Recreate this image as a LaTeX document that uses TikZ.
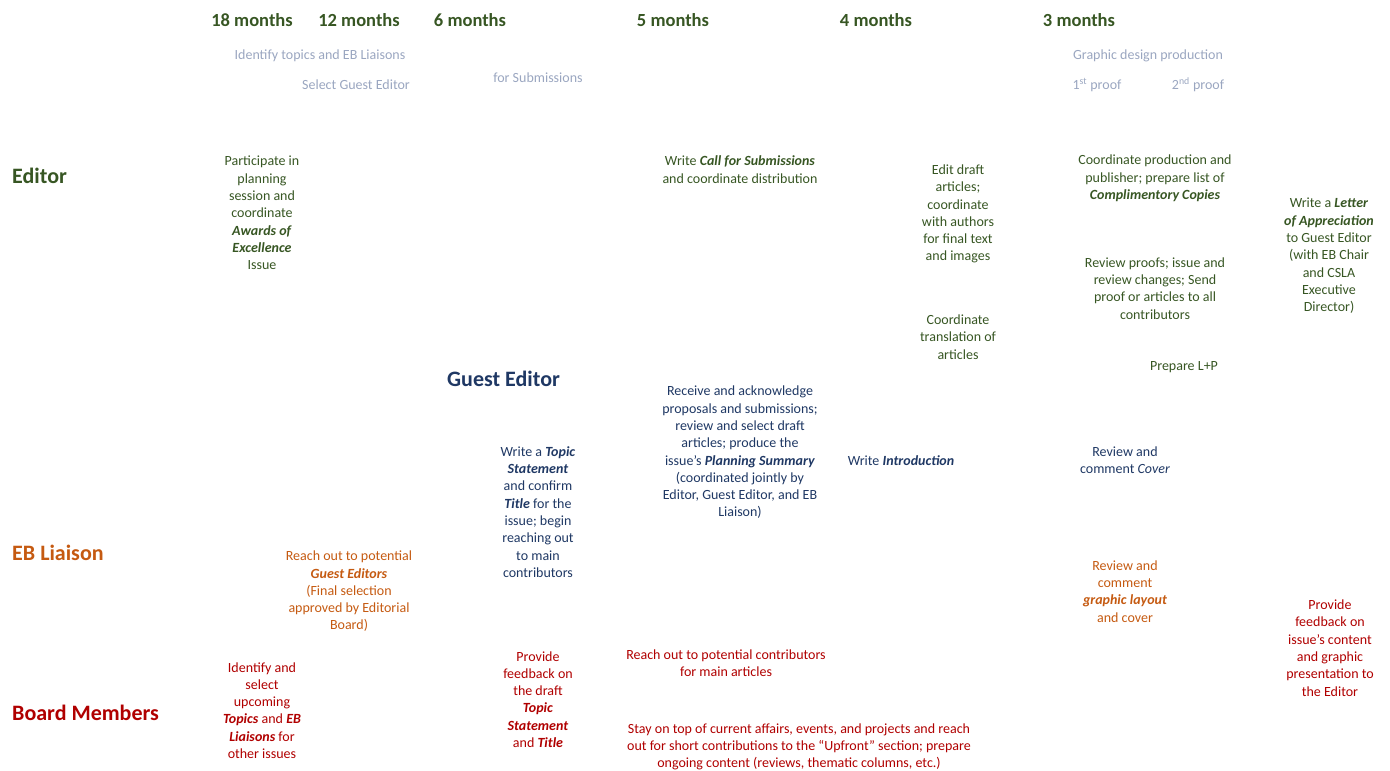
\documentclass[tikz,border=0pt]{standalone}
\usepackage{fontspec}
\setmainfont{Carlito}
\definecolor{edgreen}{HTML}{375623}
\definecolor{geblue}{HTML}{1F3864}
\definecolor{eborange}{HTML}{C55A11}
\definecolor{bmred}{HTML}{B00000}
\definecolor{pale}{HTML}{9AA6C0}
\newcommand{\bi}[1]{\textbf{\textit{#1}}}
\tikzset{
  hdr/.style={font=\fontsize{18.5}{22}\selectfont\bfseries, text=edgreen, inner sep=0pt},
  role/.style={font=\fontsize{22}{26}\selectfont\bfseries, inner sep=0pt, anchor=west},
  pl/.style={font=\fontsize{14}{16}\selectfont, text=pale, inner sep=0pt},
  task/.style={font=\fontsize{14}{17.3}\selectfont, align=center, inner sep=0pt},
  edt/.style={task, text=edgreen},
  get/.style={task, text=geblue},
  ebt/.style={task, text=eborange},
  bmt/.style={task, text=bmred}
}
\begin{document}
\begin{tikzpicture}[x=1pt,y=-1pt]
\useasboundingbox (0,0) rectangle (1390,771);
% timeline headers
\node[hdr] (h18) at (252,20) {18 months};
\node[hdr] (h12) at (359,20) {12 months};
\node[hdr] (h6) at (470,20) {6 months};
\node[hdr] (h5) at (673,20) {5 months};
\node[hdr] (h4) at (876,20) {4 months};
\node[hdr] (h3) at (1079,20) {3 months};
% pale milestone labels
\node[pl] (p1) at (320,56) {Identify topics and EB Liaisons};
\node[pl] (p2) at (356,85) {Select Guest Editor};
\node[pl] (p3) at (538,78) {for Submissions};
\node[pl] (p4) at (1148,56) {Graphic design production};
\node[pl] (p5) at (1097,85) {1\textsuperscript{st} proof};
\node[pl] (p6) at (1198,85) {2\textsuperscript{nd} proof};
% roles
\node[role, text=edgreen] (rEd) at (12,176) {Editor};
\node[role, text=geblue] (rGE) at (447,379) {Guest Editor};
\node[role, text=eborange] (rEB) at (12,553) {EB Liaison};
\node[role, text=bmred] (rBM) at (12,713) {Board Members};
% Editor tasks
\node[edt] (e1) at (262,213) {Participate in\\planning\\session and\\coordinate\\\bi{Awards of}\\\bi{Excellence}\\Issue};
\node[edt] (e2) at (740,169.5) {Write \bi{Call for Submissions}\\and coordinate distribution};
\node[edt] (e3) at (958,214) {Edit draft\\articles;\\coordinate\\with authors\\for final text\\and images};
\node[edt] (e4) at (958,337) {Coordinate\\translation of\\articles};
\node[edt] (e5) at (1155,178.5) {Coordinate production and\\publisher; prepare list of\\\bi{Complimentory Copies}};
\node[edt] (e6) at (1155,288.5) {Review proofs; issue and\\review changes; Send\\proof or articles to all\\contributors};
\node[edt] (e7) at (1184,367) {Prepare L+P};
\node[edt] (e8) at (1329,256) {Write a \bi{Letter}\\\bi{of Appreciation}\\to Guest Editor\\(with EB Chair\\and CSLA\\Executive\\Director)};
% Guest Editor tasks
\node[get] (g1) at (538,512) {Write a \bi{Topic}\\\bi{Statement}\\and confirm\\\bi{Title} for the\\issue; begin\\reaching out\\to main\\contributors};
\node[get] (g2) at (740,452.5) {Receive and acknowledge\\proposals and submissions;\\review and select draft\\articles; produce the\\issue’s \bi{Planning Summary}\\(coordinated jointly by\\Editor, Guest Editor, and EB\\Liaison)};
\node[get] (g3) at (901,461) {Write \bi{Introduction}};
\node[get] (g4) at (1125,460.5) {Review and\\comment \textit{Cover}};
% EB Liaison tasks
\node[ebt] (b1) at (349,591.5) {Reach out to potential\\\bi{Guest Editors}\\(Final selection\\approved by Editorial\\Board)};
\node[ebt] (b2) at (1125,591.5) {Review and\\comment\\\bi{graphic layout}\\and cover};
% Board Members tasks
\node[bmt] (m1) at (262,710.5) {Identify and\\select\\upcoming\\\bi{Topics} and \bi{EB}\\\bi{Liaisons} for\\other issues};
\node[bmt] (m2) at (538,699.5) {Provide\\feedback on\\the draft\\\bi{Topic}\\\bi{Statement}\\and \bi{Title}};
\node[bmt] (m3) at (726,663) {Reach out to potential contributors\\for main articles};
\node[bmt] (m4) at (799,747) {Stay on top of current affairs, events, and projects and reach\\out for short contributions to the “Upfront” section; prepare\\ongoing content (reviews, thematic columns, etc.)};
\node[bmt] (m5) at (1330,648) {Provide\\feedback on\\issue’s content\\and graphic\\presentation to\\the Editor};
\end{tikzpicture}
\end{document}
